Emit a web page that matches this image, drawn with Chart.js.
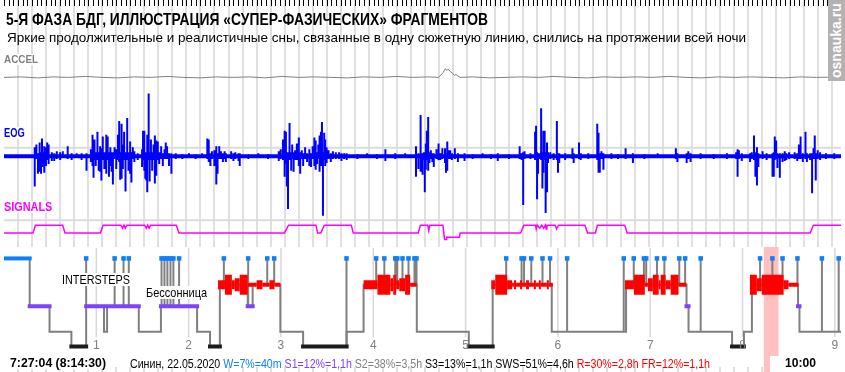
<!DOCTYPE html>
<html>
<head>
<meta charset="utf-8">
<script src="https://cdn.jsdelivr.net/npm/chart.js@4.4.1/dist/chart.umd.min.js"></script>
<style>
  html, body { margin: 0; padding: 0; background: #fff; }
  #wrap { position: relative; width: 845px; height: 372px; overflow: hidden;
          font-family: "Liberation Sans", Arial, sans-serif; }
  #plot { position: absolute; left: 0; top: 0; }
  .lbl { position: absolute; white-space: nowrap; line-height: 1; transform-origin: 0 0; }
  .box { background: #fff; }
  #mark { position: absolute; left: 828px; top: 0; width: 17px; height: 81px; background: #b2b2b2; }
  #mark span { position: absolute; left: 0; top: 0; width: 17px; height: 81px; color: #fff;
               font: bold 14px "Liberation Sans", Arial, sans-serif; writing-mode: vertical-rl;
               transform: rotate(180deg); text-align: center; line-height: 17px; }
</style>
</head>
<body>
<div id="wrap">
  <canvas id="plot" width="845" height="372"></canvas>

  <div class="lbl" data-w="482" style="left:6px;top:10.6px;font-size:17px;font-weight:bold;">5-Я ФАЗА БДГ, ИЛЛЮСТРАЦИЯ «СУПЕР-ФАЗИЧЕСКИХ» ФРАГМЕНТОВ</div>
  <div class="lbl" data-w="739" style="left:7px;top:30.9px;font-size:13.5px;">Яркие продолжительные и реалистичные сны, связанные в одну сюжетную линию, снились на протяжении всей ночи</div>

  <div class="lbl box" data-w="34" style="left:4px;top:54px;font-size:11px;font-weight:bold;color:#808080;">ACCEL</div>
  <div class="lbl box" data-w="23" style="left:4px;top:126.8px;font-size:12px;font-weight:bold;color:#0000ff;padding-right:3px;">EOG</div>
  <div class="lbl box" data-w="52" style="left:4px;top:201.3px;font-size:12px;font-weight:bold;color:#ff00ff;padding-right:4px;">SIGNALS</div>

  <div class="lbl box" data-w="68" style="left:62px;top:273.3px;font-size:13px;">INTERSTEPS</div>
  <div class="lbl box" data-w="61" style="left:146px;top:286.3px;font-size:13px;">Бессонница</div>

  <div class="lbl box" data-w="96" style="left:10px;top:357.3px;font-size:12px;font-weight:bold;">7:27:04 (8:14:30)</div>
  <div class="lbl" data-w="580" style="left:130px;top:358px;font-size:12px;">Синин, 22.05.2020 <span style="color:#0a80ff">W=7%=40m</span> <span style="color:#8040ff">S1=12%=1,1h</span> <span style="color:#808080">S2=38%=3,5h</span> S3=13%=1,1h SWS=51%=4,6h <span style="color:#ff0000">R=30%=2,8h FR=12%=1,1h</span></div>
  <div class="lbl box" style="left:770px;top:356px;width:75px;height:16px;"></div>
  <div class="lbl" data-w="31" style="left:785px;top:357px;font-size:12.5px;font-weight:bold;">10:00</div>

  <div id="mark"><span>osnauka.ru</span></div>
</div>

<script>
// ---- top window (EOG, ACCEL, SIGNALS): time in seconds, grid every second
const TOP_SECONDS = 59.65;
// ---- hypnogram: time in minutes from lights off
const NIGHT_MINUTES = 544;

// ACCEL trace [s, amplitude]
const accel = [
  [0, 0], [1.2, 0.5], [2.4, -0.5], [3.5, 0.5], [4.6, 0], [5.8, 1], [7.0, 0], [8.1, -0.5],
  [9.3, 0.5], [10.5, 0], [11.6, 1], [12.8, 0], [14.0, -0.5], [15.1, 0.5], [16.3, 0],
  [17.5, 0.5], [18.6, -0.5], [19.8, 1], [21.0, 0], [22.1, 0.5], [23.3, 0], [24.5, -0.5],
  [25.6, 0.5], [26.8, 0], [28.0, 1], [29.1, 0], [30.3, 0.5], [30.95, 0], [31.15, 2.5],
  [31.3, 5], [31.45, 9], [31.55, 7], [31.65, 8.5], [31.8, 6], [31.95, 4.5], [32.1, 2],
  [32.2, 3], [32.35, 1.5], [32.5, 0], [33.4, 0.5], [34.6, -0.5], [35.7, 0], [36.9, 0.5],
  [38.1, 0], [39.2, 1], [40.4, 0], [41.6, -0.5], [42.7, 0.5], [43.9, 0], [45.1, 0.5],
  [46.2, 0], [47.4, 1], [48.6, 0], [49.7, -0.5], [50.9, 0.5], [52.1, 0], [53.2, 0.5],
  [54.4, 0], [55.6, -0.5], [56.7, 0.5], [57.9, 0], [59.65, 0.5]
];

// EOG deflections [s, up, down]
const eogSpikes = [
  [2.19, 9, 31], [2.31, 12, 3], [2.42, 3, 18], [2.54, 14, 16], [2.64, 4, 18], [2.71, 18, 4],
  [2.78, 4, 11], [2.87, 10, 17], [2.99, 9, 10], [3.08, 14, 4], [3.18, 12, 8], [3.41, 4, 5],
  [3.58, 3, 5], [3.76, 5, 3], [4.00, 4, 4], [4.19, 5, 2], [4.54, 10, 3], [4.82, 3, 4],
  [5.18, 3, 2], [5.53, 3, 4], [5.88, 3, 15], [6.19, 7, 6], [6.31, 22, 10], [6.38, 3, 22],
  [6.45, 17, 4], [6.54, 4, 10], [6.66, 25, 4], [6.75, 4, 15], [6.85, 10, 16], [6.94, 8, 25],
  [7.04, 20, 4], [7.15, 4, 13], [7.29, 22, 18], [7.39, 20, 4], [7.48, 4, 21], [7.58, 9, 10],
  [7.67, 4, 16], [7.76, 4, 29], [7.88, 9, 3], [8.00, 7, 13], [8.12, 22, 4], [8.21, 36, 6],
  [8.28, 4, 24], [8.38, 33, 23], [8.47, 12, 13], [8.56, 25, 4], [8.66, 4, 36], [8.78, 39, 4],
  [8.87, 4, 15], [8.99, 15, 18], [9.08, 4, 27], [9.18, 9, 3], [9.29, 5, 6], [9.53, 3, 4],
  [9.84, 7, 11], [9.91, 26, 4], [10.00, 26, 15], [10.07, 4, 23], [10.14, 4, 25], [10.21, 22, 37],
  [10.31, 64, 4], [10.38, 4, 26], [10.47, 17, 4], [10.56, 4, 15], [10.66, 12, 4], [10.75, 21, 28],
  [10.85, 16, 20], [10.96, 15, 4], [11.06, 4, 8], [11.20, 10, 3], [11.32, 3, 10], [11.44, 7, 3],
  [11.53, 14, 3], [11.62, 10, 3], [11.76, 3, 10], [11.93, 3, 18], [12.24, 3, 3], [12.71, 2, 3],
  [13.18, 3, 2], [13.65, 2, 3], [14.12, 3, 2], [14.49, 18, 3], [14.59, 17, 6], [14.71, 3, 10],
  [14.82, 5, 3], [14.99, 6, 10], [15.13, 10, 29], [15.22, 3, 18], [15.34, 10, 3], [15.46, 5, 3],
  [15.60, 3, 6], [15.72, 5, 3], [15.81, 3, 6], [16.19, 5, 3], [16.35, 3, 5], [16.49, 4, 3],
  [16.71, 3, 5], [16.80, 3, 10], [17.41, 2, 3], [18.12, 3, 2], [18.82, 2, 3], [19.58, 5, 5],
  [19.72, 7, 3], [19.88, 17, 4], [20.00, 26, 21], [20.09, 25, 8], [20.16, 4, 31], [20.24, 4, 54],
  [20.35, 34, 4], [20.47, 4, 15], [20.54, 12, 3], [20.64, 4, 16], [20.75, 6, 4], [20.87, 13, 4],
  [21.01, 19, 10], [21.11, 4, 18], [21.22, 6, 3], [21.32, 3, 10], [21.46, 9, 3], [21.60, 3, 6],
  [21.76, 7, 10], [21.88, 3, 11], [22.00, 10, 3], [22.12, 19, 10], [22.21, 16, 14], [22.31, 4, 8],
  [22.40, 12, 3], [22.49, 21, 16], [22.59, 25, 10], [22.66, 35, 4], [22.73, 4, 61], [22.82, 24, 4],
  [22.89, 17, 10], [22.99, 9, 7], [23.13, 6, 3], [23.29, 3, 6], [23.44, 5, 3], [23.65, 4, 3],
  [23.88, 4, 3], [24.05, 3, 5], [24.24, 3, 3], [24.42, 3, 4], [25.18, 2, 3], [25.88, 3, 2],
  [26.59, 2, 3], [27.18, 7, 5], [27.88, 3, 3], [28.59, 3, 2], [29.36, 10, 21], [29.53, 3, 13],
  [29.69, 42, 16], [29.83, 3, 19], [29.92, 4, 4], [29.99, 4, 37], [30.06, 13, 14], [30.13, 26, 4],
  [30.23, 40, 15], [30.32, 4, 7], [30.42, 6, 3], [30.53, 3, 6], [30.63, 3, 11], [30.82, 7, 3],
  [30.93, 13, 4], [31.00, 13, 3], [31.10, 3, 4], [31.24, 8, 3], [31.43, 8, 7], [31.50, 3, 17],
  [31.59, 15, 15], [31.71, 6, 3], [31.80, 6, 3], [31.92, 3, 4], [32.13, 8, 3], [32.35, 3, 6],
  [32.82, 3, 5], [33.40, 2, 3], [34.11, 3, 2], [34.70, 2, 3], [35.19, 3, 5], [35.99, 2, 3],
  [36.75, 10, 3], [36.89, 3, 4], [37.00, 4, 50], [37.10, 5, 3], [37.52, 3, 3], [37.85, 25, 4],
  [37.92, 31, 4], [37.99, 4, 44], [38.06, 3, 18], [38.16, 3, 3], [38.28, 49, 4], [38.37, 4, 33],
  [38.44, 26, 17], [38.53, 26, 4], [38.60, 4, 58], [38.70, 14, 37], [38.77, 4, 7], [38.93, 4, 3],
  [39.17, 3, 4], [39.40, 36, 4], [39.48, 3, 17], [39.57, 3, 7], [39.99, 3, 4], [40.51, 8, 3],
  [40.60, 3, 7], [40.98, 14, 3], [41.10, 3, 4], [41.64, 3, 3], [42.28, 33, 4], [42.37, 24, 17],
  [42.46, 3, 17], [42.58, 5, 3], [42.72, 3, 14], [43.29, 3, 3], [43.76, 2, 3], [44.30, 8, 3],
  [44.82, 3, 7], [45.64, 2, 3], [46.58, 3, 2], [47.88, 8, 3], [47.99, 3, 6], [48.65, 3, 7],
  [48.77, 5, 3], [48.93, 3, 6], [49.64, 3, 3], [50.58, 2, 3], [51.52, 3, 3], [52.18, 4, 3],
  [52.28, 7, 21], [52.37, 6, 3], [52.58, 3, 5], [53.17, 3, 6], [53.29, 4, 3], [53.45, 21, 4],
  [53.55, 4, 21], [53.66, 9, 30], [53.76, 3, 11], [54.06, 5, 3], [54.35, 3, 4], [54.77, 3, 21],
  [54.86, 4, 21], [54.93, 20, 4], [55.03, 16, 3], [55.12, 3, 12], [55.29, 3, 22], [55.48, 3, 6],
  [55.64, 5, 5], [55.76, 3, 4], [55.95, 4, 3], [56.35, 4, 3], [56.53, 3, 5], [56.65, 12, 3],
  [56.77, 20, 3], [56.93, 3, 6], [57.12, 25, 3], [57.22, 3, 6], [57.45, 3, 4], [57.59, 3, 38],
  [57.69, 8, 3], [57.78, 21, 3], [57.85, 3, 25], [57.99, 6, 3], [58.16, 4, 4], [58.58, 3, 3],
  [59.17, 3, 3]
];

// SIGNALS (phasic detector): [s, level]
const signals = [
  [0, 0], [2.07, 0], [2.24, 1], [4.18, 1], [4.35, 0], [6.87, 0], [7.06, 1], [8.33, 1],
  [8.45, 0.6], [8.55, 1], [8.65, 0.6], [8.75, 1], [10.02, 1], [10.14, 0.6], [10.24, 1],
  [10.34, 0.6], [10.44, 1], [12.28, 1], [12.47, 0], [19.99, 0], [20.28, 1], [22.23, 1],
  [22.35, 0], [22.58, 0], [22.82, 1], [24.75, 1], [24.89, 0], [29.52, 0], [29.68, 1],
  [30.2, 1], [30.27, 0.3], [30.35, 1], [31.28, 1], [31.40, -0.85], [31.52, -0.85],
  [31.55, -0.55], [32.46, -0.55], [32.51, 0], [36.82, 0], [37.05, 1], [37.88, 1],
  [37.93, 0.5], [38.0, 1], [38.18, 0.6], [38.32, 1], [38.46, 0.6], [38.58, 1], [38.64, 0.5],
  [38.69, 1], [39.29, 1], [39.38, 0.5], [39.52, 1], [41.40, 1], [41.59, 0], [42.15, 0],
  [42.29, 1], [44.23, 1], [44.41, 0], [57.45, 0], [57.68, 1], [59.65, 1]
];

// hypnogram: [start minute, stage]
const stages = [
  [0, 'W'], [16.7, 'S1'], [29.6, 'S2'], [43.8, 'S3'], [53.4, 'S1'], [65.0, 'S2'], [67.0, 'S1'],
  [87.6, 'S2'], [102.0, 'S1'], [125.5, 'S2'], [133.9, 'S3'], [140.3, 'R'], [158.4, 'S1'],
  [161.6, 'R'], [179.6, 'S2'], [194.4, 'S3'], [222.7, 'S2'], [233.7, 'R'], [268.3, 'S2'],
  [302.1, 'S3'], [317.6, 'R'], [356.0, 'S2'], [404.3, 'R'], [443.6, 'S1'], [444.9, 'S2'],
  [473.2, 'S3'], [480.9, 'S2'], [486.1, 'R'], [516.1, 'S1'], [517.0, 'S2']
];
const stageLevel = { W: 0, R: 1, S1: 1.815, S2: 2.78, S3: 3.33 };

// intersteps (short arousals), minute
const arousals = [
  53.4, 71.9, 77.7, 81.1, 102.4, 104.3, 106.2, 108.2, 110.1, 113.8, 142.9, 158.7, 171.1,
  175.6, 222.6, 241.9, 247.2, 254.3, 255.6, 259.0, 262.9, 266.8, 268.1, 326.4, 336.4, 338.0,
  342.7, 350.0, 354.9, 366.0, 402.8, 409.3, 415.9, 417.4, 424.4, 429.2, 438.9, 442.7, 452.8,
  491.4, 499.4, 506.0, 515.7, 531.6, 542.5
];

// REM density blocks: [from, to, level 1..4]
const remBlocks = [
  [139.1, 143.6, 2], [143.6, 148.1, 4], [148.1, 150.0, 2], [150.0, 153.2, 3], [153.2, 158.4, 4],
  [158.4, 164.2, 1], [164.2, 168.0, 2], [168.0, 172.5, 1], [172.5, 175.8, 2], [175.8, 179.6, 1],
  [233.7, 242.7, 2], [242.7, 251.1, 4], [251.1, 253.0, 3], [253.0, 254.9, 4], [254.9, 256.9, 2],
  [256.9, 260.7, 3], [260.7, 264.0, 4], [264.0, 268.3, 1],
  [316.7, 319.3, 2], [319.3, 327.0, 4], [327.0, 330.3, 2], [330.3, 331.5, 1], [331.5, 332.8, 2],
  [332.8, 335.4, 1], [335.4, 336.7, 2], [336.7, 339.3, 1], [339.3, 341.2, 2], [341.2, 344.4, 1],
  [344.4, 345.7, 2], [345.7, 347.6, 1], [347.6, 348.9, 2], [348.9, 352.8, 1], [352.8, 354.1, 2],
  [354.1, 356.7, 1],
  [403.6, 409.4, 2], [409.4, 416.5, 4], [416.5, 418.5, 1], [418.5, 421.7, 3], [421.7, 425.5, 4],
  [425.5, 426.8, 2], [426.8, 430.0, 4], [430.0, 433.3, 2], [433.3, 438.4, 4], [438.4, 443.6, 1],
  [484.8, 489.3, 4], [489.3, 492.5, 3], [492.5, 506.7, 4], [506.7, 509.9, 2], [509.9, 516.3, 1]
];

const hourTicks = [1, 2, 3, 4, 5, 6, 7, 8, 9];
const highlight = [493.8, 503.4];

// colours
const C_W = '#0a80ff', C_S1 = '#8040ff', C_S2 = '#808080', C_S3 = '#1c1c1c', C_R = '#ff0000';
const REM_WIDTH = [0, 4, 9, 13, 20];

function stageAt(t) {
  let s = stages[0][1];
  for (const [t0, st] of stages) if (t0 <= t) s = st;
  return s;
}

// build datasets
const hypno = stages.map(([t, s]) => ({ x: t, y: stageLevel[s] }));
hypno.push({ x: NIGHT_MINUTES, y: stageLevel[stages[stages.length - 1][1]] });

function stageBars(name) {
  const pts = [];
  stages.forEach(([t0, s], i) => {
    if (s !== name) return;
    const t1 = i + 1 < stages.length ? stages[i + 1][0] : NIGHT_MINUTES;
    pts.push({ x: t0, y: stageLevel[s] }, { x: t1, y: stageLevel[s] }, { x: t1, y: null });
  });
  return pts;
}

function remLevel(lvl) {
  const pts = [];
  remBlocks.filter(b => b[2] === lvl).forEach(([a, b]) => {
    pts.push({ x: a, y: stageLevel.R }, { x: b, y: stageLevel.R }, { x: b, y: null });
  });
  return pts;
}

const arousalLines = arousals.flatMap(t => [
  { x: t, y: stageLevel.W }, { x: t, y: stageLevel[stageAt(t)] }, { x: t, y: null }
]);

const eogTrace = [{ x: 0, y: 0 }];
eogSpikes.forEach(([t, up, down]) => {
  eogTrace.push({ x: t, y: 0 }, { x: t, y: up }, { x: t, y: -down }, { x: t, y: 0 });
});
eogTrace.push({ x: TOP_SECONDS, y: 0 });

const datasets = [
  { data: arousals.map(t => ({ x: t, y: stageLevel.W })), xAxisID: 'x', yAxisID: 'yh',
    showLine: false, pointStyle: 'rect', pointRadius: 3.2, pointBackgroundColor: C_W,
    pointBorderWidth: 0, order: 0 },
  ...[4, 3, 2, 1].map(l => ({ data: remLevel(l), xAxisID: 'x', yAxisID: 'yh',
    borderColor: C_R, borderWidth: REM_WIDTH[l], borderCapStyle: 'butt', order: 1 })),
  { data: stageBars('W'), xAxisID: 'x', yAxisID: 'yh', borderColor: C_W, borderWidth: 4,
    borderCapStyle: 'square', order: 2 },
  { data: stageBars('S1'), xAxisID: 'x', yAxisID: 'yh', borderColor: C_S1, borderWidth: 4,
    borderCapStyle: 'square', order: 2 },
  { data: stageBars('S3'), xAxisID: 'x', yAxisID: 'yh', borderColor: C_S3, borderWidth: 4,
    borderCapStyle: 'square', order: 2 },
  { data: arousalLines, xAxisID: 'x', yAxisID: 'yh', borderColor: C_S2, borderWidth: 2, order: 3 },
  { data: hypno, xAxisID: 'x', yAxisID: 'yh', borderColor: C_S2, borderWidth: 2, stepped: true, order: 4 },

  { data: eogTrace, xAxisID: 'xt', yAxisID: 'ye', borderColor: '#0000ff', borderWidth: 2,
    borderJoinStyle: 'bevel', order: 5 },
  { data: [{ x: 0, y: 0 }, { x: TOP_SECONDS, y: 0 }], xAxisID: 'xt', yAxisID: 'ye',
    borderColor: '#0000ff', borderWidth: 4, order: 6 },
  { data: accel.map(([x, y]) => ({ x, y })), xAxisID: 'xt', yAxisID: 'ya',
    borderColor: '#808080', borderWidth: 1, order: 5 },
  { data: signals.map(([x, y]) => ({ x, y })), xAxisID: 'xt', yAxisID: 'ys',
    borderColor: '#ff00ff', borderWidth: 1.5, order: 5 },
  // reference lines
  { data: [{ x: 0, y: 8.5 }, { x: TOP_SECONDS, y: 8.5 }], xAxisID: 'xt', yAxisID: 'ye',
    borderColor: '#dcdcdc', borderWidth: 2, order: 9 },
  { data: [{ x: 0, y: 1.625 }, { x: TOP_SECONDS, y: 1.625 }], xAxisID: 'xt', yAxisID: 'ys',
    borderColor: '#dcdcdc', borderWidth: 2, order: 9 }
];

// grid, rulers, hour lines, highlight and hour labels
const backdrop = {
  id: 'backdrop',
  beforeDatasetsDraw(chart) {
    const ctx = chart.ctx, xt = chart.scales.xt, x = chart.scales.x;
    ctx.save();
    // highlight band
    ctx.fillStyle = '#ffc0c0';
    const h0 = x.getPixelForValue(highlight[0]), h1 = x.getPixelForValue(highlight[1]);
    ctx.fillRect(h0, 247, h1 - h0, 125);
    // one-second grid
    ctx.strokeStyle = '#e0e0e0';
    ctx.lineWidth = 2;
    for (let s = 1; s < TOP_SECONDS; s++) {
      const px = Math.round(xt.getPixelForValue(s));
      ctx.beginPath(); ctx.moveTo(px, 0); ctx.lineTo(px, 247); ctx.stroke();
      ctx.beginPath(); ctx.moveTo(px, 367); ctx.lineTo(px, 372); ctx.stroke();
    }
    // top ruler
    ctx.strokeStyle = '#000';
    ctx.lineWidth = 1;
    for (let i = 0; i <= TOP_SECONDS * 3; i++) {
      const px = Math.round(xt.getPixelForValue(i / 3)) + 0.5;
      ctx.beginPath(); ctx.moveTo(px, 0); ctx.lineTo(px, 6); ctx.stroke();
    }
    // hour lines
    ctx.strokeStyle = '#d8d8d8';
    ctx.lineWidth = 1.5;
    hourTicks.forEach(h => {
      const px = x.getPixelForValue(h * 60);
      ctx.beginPath(); ctx.moveTo(px, 248); ctx.lineTo(px, 337); ctx.stroke();
    });
    ctx.restore();
  },
  afterDatasetsDraw(chart) {
    const ctx = chart.ctx, x = chart.scales.x;
    ctx.save();
    ctx.fillStyle = '#808080';
    ctx.font = '12px "Liberation Sans", Arial, sans-serif';
    ctx.textAlign = 'center';
    ctx.textBaseline = 'alphabetic';
    hourTicks.forEach(h => ctx.fillText(String(h), x.getPixelForValue(h * 60), 348.5));
    ctx.restore();
  }
};

new Chart(document.getElementById('plot'), {
  type: 'line',
  data: { datasets },
  options: {
    responsive: false,
    devicePixelRatio: 1,
    animation: false,
    events: [],
    layout: { padding: 0 },
    elements: { point: { radius: 0 }, line: { tension: 0 } },
    plugins: { legend: { display: false }, tooltip: { enabled: false } },
    scales: {
      xt: { axis: 'x', type: 'linear', min: 0, max: TOP_SECONDS, display: false },
      x: { axis: 'x', type: 'linear', min: 0, max: NIGHT_MINUTES, display: false },
      ya: { axis: 'y', type: 'linear', min: -297, max: 75, display: false },
      ye: { axis: 'y', type: 'linear', min: -216.5, max: 155.5, display: false },
      ys: { axis: 'y', type: 'linear', min: -17.25, max: 29.25, display: false },
      yh: { axis: 'y', type: 'linear', min: -9.63, max: 4.148, reverse: true, display: false }
    }
  },
  plugins: [backdrop]
});

// squeeze labels to the widths seen in the reference
document.querySelectorAll('[data-w]').forEach(el => {
  const w = el.getBoundingClientRect().width;
  el.style.transform = 'scaleX(' + (+el.dataset.w / w) + ')';
});
</script>
</body>
</html>
